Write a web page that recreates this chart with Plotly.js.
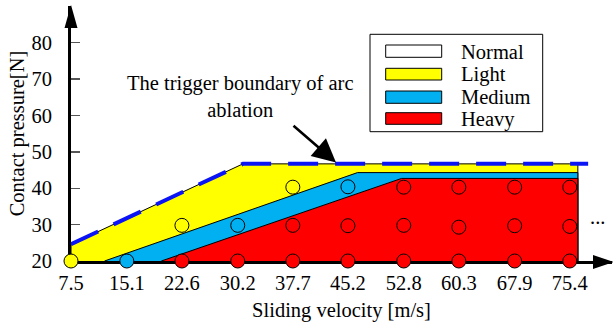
<!DOCTYPE html>
<html>
<head>
<meta charset="utf-8">
<script src="https://cdn.plot.ly/plotly-3.0.1.min.js"></script>
<style>html,body{margin:0;padding:0;background:#fff;}#chart{width:613px;height:324px;}</style>
</head>
<body>
<div id="chart"></div>
<script>
// ---- data ----
const velocity = [7.5, 15.1, 22.6, 30.2, 37.7, 45.2, 52.8, 60.3, 67.9, 75.4];
const velocityLabels = ["7.5","15.1","22.6","30.2","37.7","45.2","52.8","60.3","67.9","75.4"];
const pressureTicks = [20, 30, 40, 50, 60, 70, 80];

// region boundaries (sliding velocity, contact pressure)
const triggerX = [7.5, 30.9, 77.9];
const triggerY = [24.6, 46.7, 46.7];
const lightX = [7.5, 7.5, 30.9, 76.5, 76.5];
const lightY = [20, 24.6, 46.7, 46.7, 20];
const mediumX = [12.06, 46.5, 76.5, 76.5];
const mediumY = [20, 44.3, 44.3, 20];
const heavyX = [19.8, 52.5, 76.5, 76.5];
const heavyY = [20, 42.7, 42.7, 20];

// test points
const row20X = velocity;
const row20Y = [20, 20, 20, 20, 20, 20, 20, 20, 20, 20];
const row20Class = ["Light","Medium","Heavy","Heavy","Heavy","Heavy","Heavy","Heavy","Heavy","Heavy"];
const row30X = [22.6, 30.2, 37.7, 45.2, 52.8, 60.3, 67.9, 75.4];
const row30Y = [29.8, 29.8, 29.8, 29.7, 29.8, 29.3, 29.7, 29.5];
const row40X = [37.7, 45.2, 52.8, 60.3, 67.9, 75.4];
const row40Y = [40.3, 40.4, 40.3, 40.3, 40.3, 40.3];

const legendNames = ["Normal", "Light", "Medium", "Heavy"];
const classColors = {Normal: "#ffffff", Light: "#ffff00", Medium: "#00b0f0", Heavy: "#ff0000"};

// ---- layout helpers ----
const L = 71, T = 6, W = 541, H = 255;
const P = px => (px - L) / W;
const Q = py => (T + H - py) / H;
const FONT = "Liberation Serif";
const FS = 20.5;

const traces = [
  {x: lightX, y: lightY, type: "scatter", mode: "lines", fill: "toself", fillcolor: classColors.Light,
   line: {color: "#000", width: 1}, hoverinfo: "skip"},
  {x: mediumX, y: mediumY, type: "scatter", mode: "lines", fill: "toself", fillcolor: classColors.Medium,
   line: {color: "#000", width: 1}, hoverinfo: "skip"},
  {x: heavyX, y: heavyY, type: "scatter", mode: "lines", fill: "toself", fillcolor: classColors.Heavy,
   line: {color: "#000", width: 1}, hoverinfo: "skip"},
  {x: triggerX, y: triggerY, type: "scatter", mode: "lines", cliponaxis: false,
   line: {color: "#0a14f5", width: 4, dash: "30px,17px"}},
  {x: row30X, y: row30Y, type: "scatter", mode: "markers", cliponaxis: false,
   marker: {symbol: "circle-open", size: 14, color: "#000", line: {width: 1}}},
  {x: row40X, y: row40Y, type: "scatter", mode: "markers", cliponaxis: false,
   marker: {symbol: "circle-open", size: 14, color: "#000", line: {width: 1}}},
  {x: row20X, y: row20Y, type: "scatter", mode: "markers", cliponaxis: false,
   marker: {symbol: "circle", size: 14, color: row20Class.map(c => classColors[c]), line: {color: "#000", width: 1}}}
];

const shapes = [
  // axis arrow heads
  {type: "path", xref: "paper", yref: "paper", path:
    `M ${P(71)} ${Q(5)} L ${P(64.5)} ${Q(28)} L ${P(77.5)} ${Q(28)} Z`, fillcolor: "#000", line: {width: 0}},
  {type: "path", xref: "paper", yref: "paper", path:
    `M ${P(614)} ${Q(262)} L ${P(593)} ${Q(255)} L ${P(593)} ${Q(269)} Z`, fillcolor: "#000", line: {width: 0}},
  // legend box
  {type: "rect", xref: "paper", yref: "paper", x0: P(370), x1: P(542.7), y0: Q(131.7), y1: Q(34.3),
   fillcolor: "#fff", line: {color: "#000", width: 1}}
];
const swTop = [45, 68.3, 91, 112.7], swBot = [57.3, 80, 103.3, 124.3];
const txtY = [51.5, 74.5, 97, 119];
const annotations = [];
legendNames.forEach((n, i) => {
  shapes.push({type: "rect", xref: "paper", yref: "paper", x0: P(385.7), x1: P(441.7), y0: Q(swBot[i]), y1: Q(swTop[i]),
    fillcolor: classColors[n], line: {color: "#000", width: 1}});
  annotations.push({xref: "paper", yref: "paper", x: P(459), y: Q(txtY[i]), xanchor: "left", yanchor: "middle",
    text: n, showarrow: false, font: {family: FONT, size: FS, color: "#000"}});
});
annotations.push({xref: "paper", yref: "paper", x: P(240), y: Q(97), xanchor: "center", yanchor: "middle",
  text: "The trigger boundary of arc<br>ablation", showarrow: false, font: {family: FONT, size: FS, color: "#000"}});
annotations.push({xref: "paper", yref: "paper", x: P(336), y: Q(162.5), text: "", showarrow: true,
  ax: -44, ay: -38, arrowhead: 2, arrowsize: 1.8, arrowwidth: 2.6, arrowcolor: "#000", standoff: 0});
annotations.push({xref: "paper", yref: "paper", x: P(597), y: Q(217), xanchor: "center", yanchor: "middle",
  text: "...", showarrow: false, font: {family: FONT, size: FS, color: "#000"}});

const layout = {
  width: 613, height: 324,
  margin: {l: L, r: 613 - L - W, t: T, b: 324 - T - H},
  paper_bgcolor: "#fff", plot_bgcolor: "#fff",
  showlegend: false,
  font: {family: FONT, size: FS, color: "#000"},
  xaxis: {range: [7.5, 81.15], tickvals: velocity, ticktext: velocityLabels, ticks: "", showgrid: false,
    zeroline: false, showline: true, linecolor: "#000", linewidth: 3, layer: "below traces",
    ticklabelstandoff: 1, tickfont: {family: FONT, size: FS, color: "#000"},
    title: {text: "Sliding velocity [m/s]", font: {family: FONT, size: FS, color: "#000"}, standoff: 11}},
  yaxis: {range: [20, 90.1], tickvals: pressureTicks, ticks: "inside", ticklen: 9, tickwidth: 1.5, tickcolor: "#555",
    showgrid: false, zeroline: false, showline: true, linecolor: "#000", linewidth: 3, layer: "below traces",
    ticklabelstandoff: 12, tickfont: {family: FONT, size: FS, color: "#000"},
    title: {text: "Contact pressure[N]", font: {family: FONT, size: FS, color: "#000"}, standoff: 2}},
  shapes: shapes,
  annotations: annotations
};

Plotly.newPlot("chart", traces, layout, {staticPlot: true, displayModeBar: false});
</script>
</body>
</html>
